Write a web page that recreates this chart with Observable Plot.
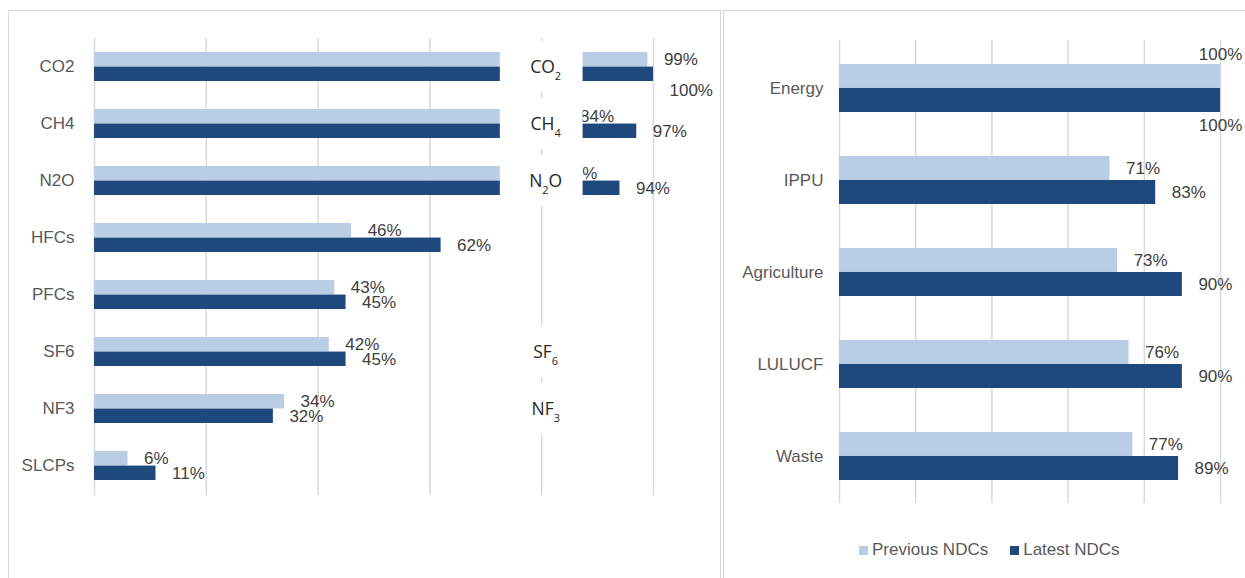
<!DOCTYPE html>
<html><head><meta charset="utf-8">
<script src="https://cdn.jsdelivr.net/npm/d3@7"></script>
<script src="https://cdn.jsdelivr.net/npm/@observablehq/plot@0.6"></script>
<style>
body{margin:0;background:#fff;}
#wrap{position:relative;width:1245px;height:578px;overflow:hidden;font-family:"Liberation Sans",Arial,sans-serif;}
.panel{position:absolute;border:1.5px solid #d9d9d9;box-sizing:border-box;}
#left,#right{position:absolute;top:0;}
#left{left:0;} #right{left:724px;}
#legend{position:absolute;left:859px;top:540px;display:flex;align-items:center;font-size:17px;color:#595959;white-space:nowrap;}
#legend .item{display:flex;align-items:center;margin-right:22px;}
#legend .sw{width:9px;height:9px;display:inline-block;margin-right:4px;}
</style></head>
<body><div id="wrap">
<div class="panel" style="left:8px;top:10px;width:713px;height:600px"></div>
<div class="panel" style="left:723px;top:10px;width:600px;height:600px"></div>
<div id="left"></div><div id="right"></div>
<div id="legend"></div>
</div>
<script>
// ---- data ----
const seriesNames = ["Previous NDCs", "Latest NDCs"];
const seriesColors = ["#b9cde5", "#1f497d"];

const gasCategories = ["CO2", "CH4", "N2O", "HFCs", "PFCs", "SF6", "NF3", "SLCPs"];
const gasPrevious = [99, 84, 81, 46, 43, 42, 34, 6];
const gasLatest = [100, 97, 94, 62, 45, 45, 32, 11];

const sectorCategories = ["Energy", "IPPU", "Agriculture", "LULUCF", "Waste"];
const sectorPrevious = [100, 71, 73, 76, 77];
const sectorLatest = [100, 83, 90, 90, 89];

const formulaCategories = ["CO2", "CH4", "N2O", "SF6", "NF3"];
const gridTicks = [0, 20, 40, 60, 80, 100];
const formulaAt = 80;      // formula labels sit on this gridline
const formulaHalfWidth = 7.4;

// ---- helpers ----
const toRows = (cats, prev, latest) => cats.flatMap((c, i) => [
  {category: c, series: seriesNames[0], value: prev[i]},
  {category: c, series: seriesNames[1], value: latest[i]}
]);
const gasData = toRows(gasCategories, gasPrevious, gasLatest);
const sectorData = toRows(sectorCategories, sectorPrevious, sectorLatest);
const pct = d => d.value + "%";
const isPrev = d => d.series === seriesNames[0];
const isLatest = d => d.series === seriesNames[1];
const labelColor = "#404040";
const gridStyle = {stroke: "#d9d9d9", strokeOpacity: 1, strokeWidth: 1.5};
const baseStyle = {fontSize: "17px", fontFamily: "'Liberation Sans', Arial, sans-serif", color: "#595959", background: "transparent", overflow: "visible"};

// ---- left panel (gases) ----
const L = {width: 720, height: 578, marginLeft: 94, marginRight: 67, marginTop: 38, marginBottom: 83};
const padL = 0.49;
const stepL = (L.height - L.marginTop - L.marginBottom) / gasCategories.length;
const bwL = stepL * (1 - padL);

const left = Plot.plot({
  ...L,
  style: baseStyle,
  x: {domain: [0, 100], axis: null},
  y: {domain: gasCategories, paddingInner: padL, paddingOuter: padL / 2, label: null},
  color: {domain: seriesNames, range: seriesColors},
  marks: [
    Plot.gridX(gridTicks, gridStyle),
    Plot.barX(gasData.filter(isPrev), {x: "value", y: "category", fill: "series", insetBottom: bwL / 2}),
    Plot.barX(gasData.filter(isLatest), {x: "value", y: "category", fill: "series", insetTop: bwL / 2}),
    Plot.axisY({tickSize: 0, tickPadding: 20, label: null}),
    Plot.text(gasData.filter(d => isPrev(d)), {x: "value", y: "category", text: pct, dx: 16, dy: -bwL / 4, textAnchor: "start", fill: labelColor}),
    Plot.text(gasData.filter(d => isLatest(d) && d.value < 100), {x: "value", y: "category", text: pct, dx: 16, dy: bwL / 4, textAnchor: "start", fill: labelColor}),
    Plot.text(gasData.filter(d => isLatest(d) && d.value === 100), {x: "value", y: "category", text: pct, dx: 16, dy: bwL / 4 + 16, textAnchor: "start", fill: labelColor}),
    // white boxes behind the chemical formula labels
    Plot.barX(formulaCategories, {x1: formulaAt - formulaHalfWidth, x2: formulaAt + formulaHalfWidth, y: d => d, fill: "white",
      insetTop: -(stepL - bwL) / 2 + 3, insetBottom: -(stepL - bwL) / 2 + 3}),
    Plot.text(formulaCategories, {x: formulaAt, y: d => d, text: d => d, className: "formula", dx: 4, textAnchor: "middle",
      fill: "#262626", fontFamily: "'Open Sans', 'Noto Sans', sans-serif", fontSize: 17.5})
  ]
});
// subscripts for the formula labels
d3.select(left).selectAll(".formula text").each(function () {
  const parts = this.textContent.match(/\d+|\D+/g);
  const el = d3.select(this);
  el.text("");
  let shifted = false;
  parts.forEach(p => {
    const isNum = /^\d+$/.test(p);
    const ts = el.append("tspan").text(p);
    if (isNum) { ts.attr("font-size", 11).attr("dy", 7); shifted = true; }
    else if (shifted) { ts.attr("dy", -7); shifted = false; }
  });
});
document.getElementById("left").append(left);

// ---- right panel (sectors) ----
const R = {width: 521, height: 578, marginLeft: 115, marginRight: 25, marginTop: 40, marginBottom: 75};
const padR = 0.482;
const stepR = (R.height - R.marginTop - R.marginBottom) / sectorCategories.length;
const bwR = stepR * (1 - padR);

const right = Plot.plot({
  ...R,
  style: baseStyle,
  x: {domain: [0, 100], axis: null},
  y: {domain: sectorCategories, paddingInner: padR, paddingOuter: padR / 2, label: null},
  color: {domain: seriesNames, range: seriesColors},
  marks: [
    Plot.gridX(gridTicks, gridStyle),
    Plot.barX(sectorData.filter(isPrev), {x: "value", y: "category", fill: "series", insetBottom: bwR / 2}),
    Plot.barX(sectorData.filter(isLatest), {x: "value", y: "category", fill: "series", insetTop: bwR / 2}),
    Plot.axisY({tickSize: 0, tickPadding: 16, label: null}),
    Plot.text(sectorData.filter(d => isPrev(d) && d.value < 100), {x: "value", y: "category", text: pct, dx: 16, dy: -bwR / 4, textAnchor: "start", fill: labelColor}),
    Plot.text(sectorData.filter(d => isLatest(d) && d.value < 100), {x: "value", y: "category", text: pct, dx: 16, dy: bwR / 4, textAnchor: "start", fill: labelColor}),
    Plot.text(sectorData.filter(d => isPrev(d) && d.value === 100), {x: "value", y: "category", text: pct, dy: -bwR / 2 - 10, textAnchor: "middle", fill: labelColor}),
    Plot.text(sectorData.filter(d => isLatest(d) && d.value === 100), {x: "value", y: "category", text: pct, dy: bwR / 2 + 13, textAnchor: "middle", fill: labelColor})
  ]
});
document.getElementById("right").append(right);

// ---- legend ----
const legend = d3.select("#legend");
seriesNames.forEach((s, i) => {
  const item = legend.append("div").attr("class", "item");
  item.append("span").attr("class", "sw").style("background", seriesColors[i]);
  item.append("span").text(s);
});
</script>
</body></html>
